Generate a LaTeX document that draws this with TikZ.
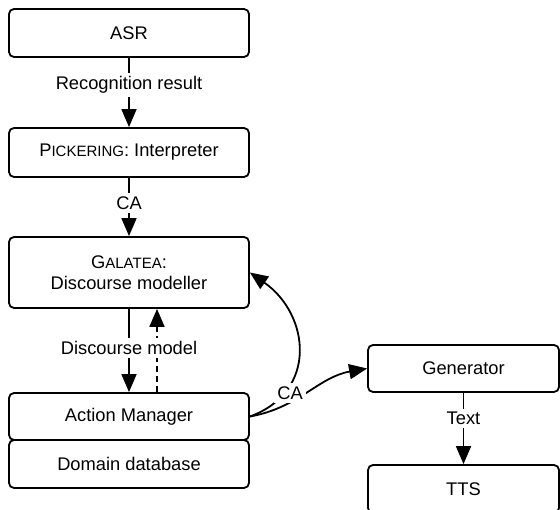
\documentclass[tikz,border=0pt]{standalone}
\usepackage{fontspec}
\setmainfont{Liberation Sans}
\usetikzlibrary{arrows.meta}
\newcommand{\fakesc}[2]{#1{\fontsize{15}{17}\selectfont #2}}
\begin{document}
\begin{tikzpicture}[x=1pt,y=1pt,
  box/.style={draw, line width=1.8pt, rounded corners=5pt, minimum width=240pt,
    align=center, inner sep=0pt, font=\fontsize{18.3}{21.5}\selectfont},
  arr/.style={line width=1.8pt, -{Triangle[length=18pt,width=15pt]}},
  lbl/.style={fill=white, inner sep=3.5pt, font=\fontsize{18.3}{21.5}\selectfont},
]
\useasboundingbox (0,0) rectangle (560,510);
\clip (0,0) rectangle (560,510);
% boxes
\node[box, minimum height=48pt] (asr) at (129,477) {ASR};
\node[box, minimum height=49pt] (pick) at (129,357.5) {\fakesc{P}{ICKERING}: Interpreter};
\node[box, minimum height=71pt] (gal) at (129,237.5) {\fakesc{G}{ALATEA}:\\Discourse modeller};
\node[box, minimum height=47pt] (am) at (129,93.5) {Action Manager};
\node[box, minimum height=48pt] (db) at (129,46) {Domain database};
\node[box, minimum width=191pt, minimum height=47pt] (gen) at (463.5,141.5) {Generator};
\node[box, minimum width=191pt, minimum height=48pt] (tts) at (463.5,21) {TTS};
% vertical connectors
\draw[arr] (asr) -- (pick) node[lbl, pos=0.39] (lrec) {Recognition result};
\draw[arr] (pick) -- (gal) node[lbl, pos=0.43] (lca1) {CA};
\draw[arr, dash pattern=on 6pt off 4pt] ([xshift=28pt]am.north) -- ([xshift=28pt]gal.south);
\draw[arr] (gal) -- (am) node[lbl, pos=0.47] (ldm) {Discourse model};
\draw[arr] (gen) -- (tts) node[lbl, pos=0.36] (ltext) {Text};
% curved connectors
\draw[arr] (am.east) to[out=20, in=-35, looseness=1.3] (gal.east);
\draw[arr] (am.east) to[out=10, in=190] (gen.west);
\node[lbl] (lca2) at (290,117) {CA};
\end{tikzpicture}
\end{document}
